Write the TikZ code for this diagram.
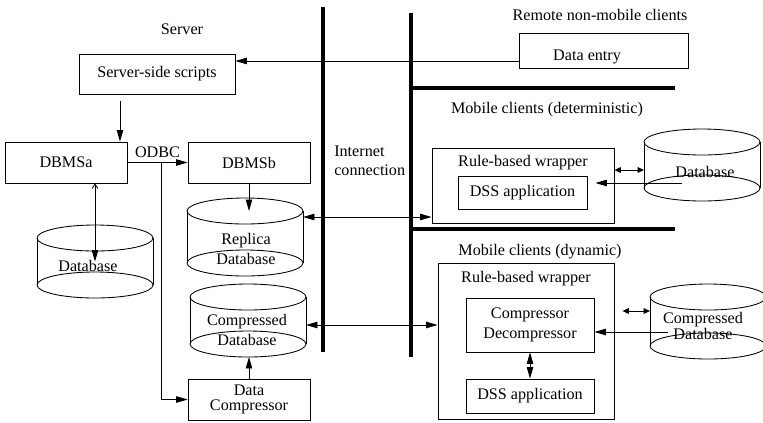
\documentclass[tikz,border=0pt]{standalone}
\usepackage{fontspec}
\setmainfont{Liberation Serif}
\usetikzlibrary{arrows.meta,calc}
\tikzstyle{box}=[draw, line width=.6pt, inner sep=0pt, align=center]
\tikzstyle{txt}=[inner sep=0pt, align=center]
\tikzstyle{arr}=[line width=.6pt, -{Triangle[length=8pt,width=4.5pt]}]
\tikzstyle{darr}=[line width=.6pt, {Triangle[length=8pt,width=4.5pt]}-{Triangle[length=8pt,width=4.5pt]}]
\tikzstyle{sdarr}=[line width=.6pt, {Triangle[length=4.5pt,width=4pt]}-{Triangle[length=4.5pt,width=4pt]}]
\tikzstyle{net}=[line width=2.8pt]
\begin{document}
\begin{tikzpicture}[x=.7pt, y=-.7pt, font=\fontsize{11.3}{14}\selectfont]
\useasboundingbox (0,0) rectangle (763,422);
% internet lines
\draw[net] (323,7) -- (323,352);
\draw[net] (411,13) -- (411,357);
\draw[net] (411,88) -- (675,88);
\draw[net] (411,229) -- (675,229);
% databases
\foreach \n/\x/\t/\b in {dbl/95/238/285, rep/245/211/263, cmp/248/297/344, dbd/702/142/188, dbc/708/297/346}{
	\draw[line width=.6pt] (\x,\t) ellipse [x radius=58, y radius=13];
	\draw[line width=.6pt] (\x,\b) ellipse [x radius=58, y radius=13];
	\draw[line width=.6pt] (\x-58,\t) -- (\x-58,\b) (\x+58,\t) -- (\x+58,\b);
	\coordinate (\n-t) at (\x,\t);
	\coordinate (\n-c) at (\x,{(\t+\b)/2});
	\coordinate (\n-s) at (\x,\b+13);
}
\node[txt] (dbl-lbl) at (88,266) {Database};
\node[txt] (rep-lbl) at (246,249) {Replica\\Database};
\node[txt] (cmp-lbl) at (247,330) {Compressed\\Database};
\node[txt] (dbd-lbl) at (705,172) {Database};
\node[txt, font=\fontsize{11.3}{10}\selectfont] (dbc-lbl) at (703,326) {Compressed\\Database};
% server
\node[txt] (server) at (182,29) {Server};
\node[box, minimum width=109.2pt, minimum height=28pt] (sss) at (157,74) {Server-side scripts};
\node[box, minimum width=85.4pt, minimum height=28.7pt] (dbmsa) at (66,162.5) {DBMSa};
\node[box, minimum width=85.4pt, minimum height=28.7pt] (dbmsb) at (249,162.5) {DBMSb};
\node[box, minimum width=85.4pt, minimum height=28.7pt, font=\fontsize{11.3}{10.5}\selectfont] (dcomp) at (249,399.5) {Data\\Compressor};
% clients
\node[txt] (remote) at (600,15) {Remote non-mobile clients};
\node[box, minimum width=118.3pt, minimum height=24.5pt,
	label={[txt, xshift=-11.5pt, yshift=-4.5pt]center:Data entry}] (dataentry) at (603.5,50.5) {};
\node[txt] (mdet) at (547,110) {Mobile clients (deterministic)};
\node[box, minimum width=127.4pt, minimum height=52.5pt,
	label={[txt, anchor=north, yshift=-5.5pt]north:Rule-based wrapper}] (detwrap) at (523,185.5) {};
\node[box, minimum width=90.3pt, minimum height=23.1pt] (dss1) at (522.5,192.5) {DSS application};
\node[txt] (mdyn) at (540,252) {Mobile clients (dynamic)};
\node[box, minimum width=123.2pt, minimum height=109.2pt,
	label={[txt, anchor=north, yshift=-6.2pt]north:Rule-based wrapper}] (dynwrap) at (526,341) {};
\node[box, minimum width=89.6pt, minimum height=37.8pt] (cd) at (530,325) {Compressor\\Decompressor};
\node[box, minimum width=89.6pt, minimum height=23.8pt] (dss2) at (530,396) {DSS application};
\node[txt, align=left, anchor=west, font=\fontsize{11.3}{13.3}\selectfont] (inet) at (334,161) {Internet\\connection};
% ports
\coordinate (p-de) at (519,61);
\coordinate (p-sd) at (120,101);
\coordinate (p-rep) at (303,217);
\coordinate (p-cmp) at (306,325);
\coordinate (p-dbd) at (644,170);
\coordinate (p-dbd2) at (682,183);
\coordinate (p-dbc) at (650,311);
\coordinate (p-dbc2) at (668,332);
% connectors
\draw[arr] (p-de) -- (p-de -| sss.east);
\draw[arr] (p-sd) -- (p-sd |- dbmsa.north);
\draw[arr] (dbmsa) -- node[txt, above=3pt]{ODBC} coordinate[pos=.57] (split) (dbmsb);
\draw[arr] (split) |- (dcomp.west);
\draw[line width=.6pt, {Straight Barb[length=3pt,width=4pt]}-{Triangle[length=8pt,width=4.5pt]}] (dbmsa.south -| dbl-c) -- (dbl-c);
\draw[arr] (dbmsb.south) -- (dbmsb.south |- rep-t);
\draw[arr] (dcomp.north) -- (dcomp.north |- cmp-s);
\draw[darr] (p-rep) -- (p-rep -| detwrap.west);
\draw[darr] (p-cmp) -- (p-cmp -| dynwrap.west);
\draw[sdarr] (p-dbd) -- (p-dbd -| detwrap.east);
\draw[arr] (p-dbd2) -- ($(p-dbd2 -| dss1.east)+(8,0)$);
\draw[sdarr] (p-dbc) -- ($(p-dbc -| dynwrap.east)+(8,0)$);
\draw[arr] (p-dbc2) -- (p-dbc2 -| cd.east);
\draw[darr] (cd) -- (dss2);
\end{tikzpicture}
\end{document}
